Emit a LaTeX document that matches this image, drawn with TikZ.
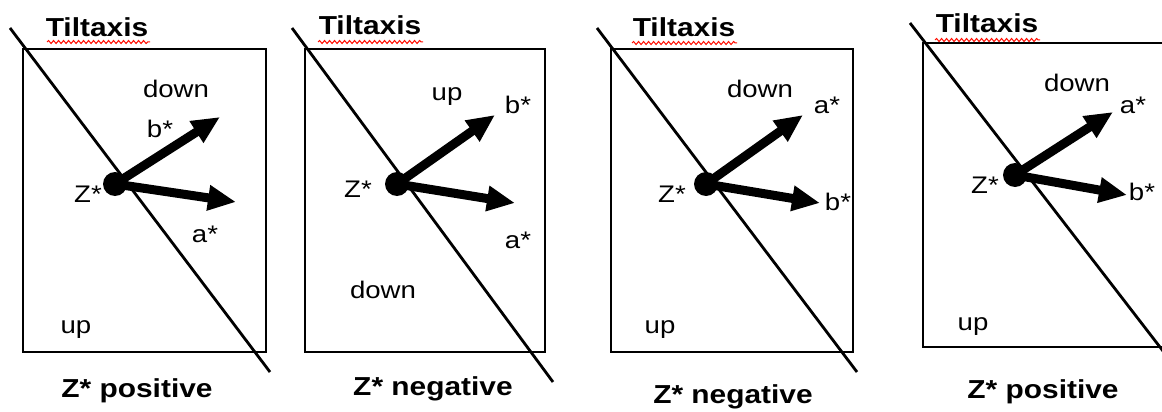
\documentclass[tikz,border=0pt]{standalone}
\usepackage{fontspec}
\setmainfont{Liberation Sans}
\usetikzlibrary{arrows.meta,decorations.pathmorphing}
\tikzset{
  lbl/.style={font=\fontsize{24}{28}\selectfont, xscale=1.15, inner sep=0pt, anchor=base},
  ttl/.style={font=\bfseries\fontsize{26}{30}\selectfont, xscale=1.15, inner sep=0pt, anchor=base},
  frame/.style={line width=1.8pt},
  axisline/.style={line width=2.8pt},
  vec/.style={line width=9pt, -{Triangle[length=28pt,width=24pt]}},
  zdot/.style={circle, fill=black, minimum size=24pt, inner sep=0pt},
  squig/.style={red!90!orange, line width=1pt, decorate, decoration={snake, segment length=5pt, amplitude=1.5pt}}
}
\begin{document}
\begin{tikzpicture}[x=1pt,y=-1pt]
\useasboundingbox (0,0) rectangle (1162,412);
\clip (0,0) rectangle (1162,412);
\fill[white] (0,0) rectangle (1162,412);

% ---------- Panel 1 ----------
\draw[frame] (23,49) rectangle (266,352);
\coordinate (a1s) at (10,28); \coordinate (a1e) at (270,372);
\draw[axisline] (a1s) -- (a1e);
\node[ttl] (t1) at (97,37) {Tiltaxis};
\draw[squig] (47,42) -- (150,42);
\node[zdot] (d1) at (115,184) {};
\coordinate (b1tip) at (220,117);
\coordinate (a1tip) at (236,202);
\draw[vec] (d1.center) -- (b1tip);
\draw[vec] (d1.center) -- (a1tip);
\node[lbl] (dn1) at (176,97) {down};
\node[lbl] (bl1) at (160,137) {b*};
\node[lbl] (z1) at (88,202) {Z*};
\node[lbl] (al1) at (205,242) {a*};
\node[lbl] (up1) at (76,333) {up};
\node[ttl] (c1) at (137,397) {Z* positive};

% ---------- Panel 2 ----------
\draw[frame] (305,49) rectangle (545,352);
\coordinate (a2s) at (292,28); \coordinate (a2e) at (553,382);
\draw[axisline] (a2s) -- (a2e);
\node[ttl] (t2) at (370,35) {Tiltaxis};
\draw[squig] (318,42) -- (423,42);
\node[zdot] (d2) at (397,184) {};
\coordinate (b2tip) at (495,115);
\coordinate (a2tip) at (515,203);
\draw[vec] (d2.center) -- (b2tip);
\draw[vec] (d2.center) -- (a2tip);
\node[lbl] (up2) at (447,100) {up};
\node[lbl] (bl2) at (518,113) {b*};
\node[lbl] (z2) at (358,197) {Z*};
\node[lbl] (al2) at (518,248) {a*};
\node[lbl] (dn2) at (383,298) {down};
\node[ttl] (c2) at (433,395) {Z* negative};

% ---------- Panel 3 ----------
\draw[frame] (611,49) rectangle (853,352);
\coordinate (a3s) at (597,28); \coordinate (a3e) at (857,372);
\draw[axisline] (a3s) -- (a3e);
\node[ttl] (t3) at (684,37) {Tiltaxis};
\draw[squig] (632,43) -- (737,43);
\node[zdot] (d3) at (706,184) {};
\coordinate (a3tip) at (803,115);
\coordinate (b3tip) at (820,203);
\draw[vec] (d3.center) -- (a3tip);
\draw[vec] (d3.center) -- (b3tip);
\node[lbl] (dn3) at (760,97) {down};
\node[lbl] (al3) at (827,113) {a*};
\node[lbl] (z3) at (672,202) {Z*};
\node[lbl] (bl3) at (838,210) {b*};
\node[lbl] (up3) at (660,333) {up};
\node[ttl] (c3) at (733,403) {Z* negative};

% ---------- Panel 4 ----------
\draw[frame] (1175,43) -- (923,43) -- (923,347) -- (1175,347);
\coordinate (a4s) at (910,23); \coordinate (a4e) at (1190,386);
\draw[axisline] (a4s) -- (a4e);
\node[ttl] (t4) at (987,33) {Tiltaxis};
\draw[squig] (935,40) -- (1040,40);
\node[zdot] (d4) at (1015,175) {};
\coordinate (a4tip) at (1113,112);
\coordinate (b4tip) at (1127,195);
\draw[vec] (d4.center) -- (a4tip);
\draw[vec] (d4.center) -- (b4tip);
\node[lbl] (dn4) at (1077,92) {down};
\node[lbl] (al4) at (1133,113) {a*};
\node[lbl] (z4) at (985,193) {Z*};
\node[lbl] (bl4) at (1142,200) {b*};
\node[lbl] (up4) at (973,330) {up};
\node[ttl] (c4) at (1043,398) {Z* positive};
\end{tikzpicture}
\end{document}
